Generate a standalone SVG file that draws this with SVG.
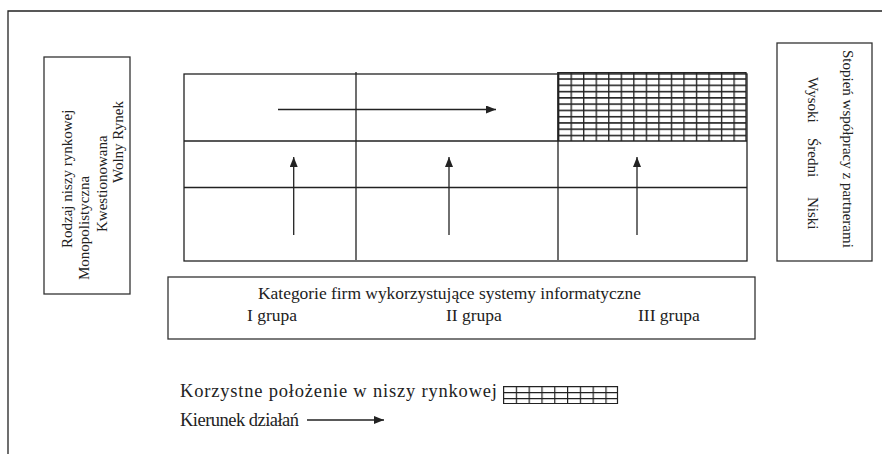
<svg xmlns="http://www.w3.org/2000/svg" width="882" height="454" viewBox="0 0 882 454">
<defs>
<style>
.ln{stroke:#222;stroke-width:1.3;fill:none}
.bx{stroke:#333;stroke-width:1.3;fill:#fff}
.t{font-family:"Liberation Serif","Times New Roman",serif;fill:#222;font-size:15px}
.tb{font-family:"Liberation Serif","Times New Roman",serif;fill:#222;font-size:17.5px}
.tl{font-family:"Liberation Serif","Times New Roman",serif;fill:#222;font-size:18.5px}
.h{stroke:#222;stroke-width:1.2;fill:none}
</style>
<marker id="ah" viewBox="0 0 10 8" refX="10" refY="4" markerWidth="10" markerHeight="8" markerUnits="userSpaceOnUse" orient="auto">
<path d="M0,0 L10,4 L0,8 Z" fill="#222"/>
</marker>
<pattern id="hatch" x="558" y="72" width="12.53" height="6.27" patternUnits="userSpaceOnUse">
<path d="M0,0.75 H12.53 M0.6,0 V6.27" stroke="#222" stroke-width="1.5"/>
</pattern>
<pattern id="hatch2" x="503" y="386" width="12.8" height="6" patternUnits="userSpaceOnUse">
<path d="M0,0.6 H12.8 M0.6,0 V6" stroke="#222" stroke-width="1.2"/>
</pattern>
</defs>
<rect width="882" height="454" fill="#fff"/>
<path class="ln" d="M8,454 V11 H882"/>

<g id="left-box">
<rect class="bx" x="44" y="57" width="86" height="237"/>
<text class="t" transform="translate(72,248) rotate(-90)">Rodzaj niszy rynkowej</text>
<text class="t" transform="translate(89,280) rotate(-90)">Monopolistyczna</text>
<text class="t" transform="translate(107,232) rotate(-90)">Kwestionowana</text>
<text class="t" transform="translate(123,183) rotate(-90)">Wolny Rynek</text>
</g>

<g id="right-box">
<rect class="bx" x="777" y="43" width="95" height="218"/>
<text class="t" transform="translate(843,50) rotate(90)">Stopień współpracy z partnerami</text>
<text class="t" transform="translate(808,77) rotate(90)">Wysoki</text>
<text class="t" transform="translate(808,138) rotate(90)">Średni</text>
<text class="t" transform="translate(808,197) rotate(90)">Niski</text>
</g>

<g id="grid">
<rect class="ln" x="184" y="74" width="563" height="187"/>
<rect x="558" y="72" width="188" height="69" fill="url(#hatch)"/>
<path class="ln" d="M558,72 V141 M746,72 V141"/>
<path class="ln" d="M184,141 H747 M184,187.5 H747 M356,72 V260 M558,72 V260"/>
</g>

<g id="connectors">
<path class="ln" d="M278,109.5 H496" marker-end="url(#ah)"/>
<path class="ln" d="M293.7,235 V157" marker-end="url(#ah)"/>
<path class="ln" d="M449,235 V157" marker-end="url(#ah)"/>
<path class="ln" d="M637,235 V157" marker-end="url(#ah)"/>
</g>

<g id="bottom-box">
<rect class="bx" x="168" y="277" width="587" height="62"/>
<text class="tb" x="258" y="299" textLength="383" lengthAdjust="spacing">Kategorie firm wykorzystujące systemy informatyczne</text>
<text class="tb" x="247" y="321">I grupa</text>
<text class="tb" x="446" y="321">II grupa</text>
<text class="tb" x="638" y="321">III grupa</text>
</g>

<g id="legend">
<text class="tl" x="180" y="397" textLength="317" lengthAdjust="spacing">Korzystne położenie w niszy rynkowej</text>
<rect x="503" y="386" width="115" height="18" fill="url(#hatch2)"/>
<path class="h" d="M617.5,386 V404 M503,403.5 H618"/>
<text class="tl" x="180" y="426" textLength="119" lengthAdjust="spacing">Kierunek działań</text>
<path class="ln" d="M307,420 H384" marker-end="url(#ah)"/>
</g>
</svg>
